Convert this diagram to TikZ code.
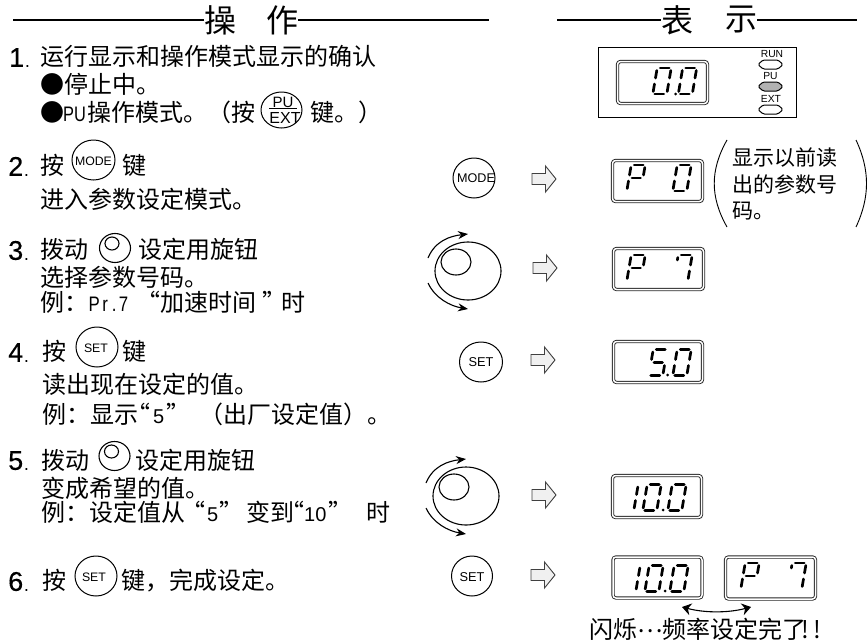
\documentclass[tikz,border=0pt]{standalone}
\usepackage{fontspec}
\usepackage{graphicx}
\usetikzlibrary{shapes.geometric,arrows.meta}
\setmainfont{Liberation Sans}
\newfontfamily\cjk{Noto Sans CJK SC}
\newfontfamily\numf[FakeBold=0.4]{Liberation Sans}
\newcommand\hw[1]{\makebox[12pt][c]{#1}}
\newcommand\sA{\draw[seg] (3,-13)--(12,-13);}
\newcommand\sB{\draw[seg] (14,-10.5)--(14,-3);}
\newcommand\sC{\draw[seg] (14,3)--(14,10.5);}
\newcommand\sD{\draw[seg] (2,13)--(11,13);}
\newcommand\sE{\draw[seg] (0,3)--(0,10.5);}
\newcommand\sF{\draw[seg] (0,-10.5)--(0,-3);}
\newcommand\sG{\draw[seg] (3,0)--(11.5,0);}
\newcommand\sS{\draw[seg] (0,-10.5)--(0,-8);}
\newcommand\digit[3]{\begin{scope}[shift={(#1,#2)},xslant=.17]#3\end{scope}}
\newcommand\blockarrow[2]{\draw[blockar,shift={(#1,#2)}] (0,-5.5)--(13.5,-5.5)--(13.5,-13)--(24,0)--(13.5,13)--(13.5,5.5)--(0,5.5)--cycle;}
\newcommand\led[2]{\draw[line width=1pt,fill=#2,rounded corners=1.5pt,shift={(770.5,#1)}] (-12.5,0)--(-7.5,-4.5)--(7.5,-4.5)--(12.5,0)--(7.5,4.5)--(-7.5,4.5)--cycle;}
\newcommand\bigknob[2]{\begin{scope}[shift={(#1,#2)}]
 \draw[knob] (0,0) ellipse [x radius=33,y radius=29];
 \draw[knob] (-12,-9) ellipse [x radius=15,y radius=13];
 \draw[knob,-{Stealth[length=10pt,width=8pt]}] (-40,-13) .. controls (-33,-30) and (-18,-35) .. (0,-37);
 \draw[knob,-{Stealth[length=10pt,width=8pt]}] (-40,12) .. controls (-33,27) and (-18,35) .. (0,38);
\end{scope}}
\newcommand\smallknob[2]{\begin{scope}[shift={(#1,#2)}]
 \draw[knob] (0,0) ellipse [x radius=15.5,y radius=14.5];
 \draw[knob] (-3,-4.5) ellipse [x radius=7,y radius=6.5];
\end{scope}}
\tikzset{
 seg/.style={line width=2.7pt,line cap=round},
 blockar/.style={draw=black!75,fill=black!6,line width=.9pt,line join=miter},
 knob/.style={line width=1.1pt},
 dispbox/.style={rectangle,rounded corners=3pt,draw=black!85,double=white,double distance=1.5pt,line width=.9pt,inner sep=0pt},
 keyc/.style={ellipse,draw,line width=1pt,inner sep=0pt},
 keytext/.style={inner sep=0pt,font=\fontsize{12.3}{12.3}\selectfont},
 txt/.style={anchor=base west,inner sep=0pt,yshift=-8.8pt,font=\cjk\fontsize{24}{24}\selectfont},
 lat/.style={txt,font=\fontsize{20}{20}\selectfont},
 mono/.style={txt,font=\fontsize{21}{21}\selectfont},
 note/.style={anchor=base west,inner sep=0pt,yshift=-7.8pt,font=\cjk\fontsize{21}{21}\selectfont},
 head/.style={inner sep=0pt,font=\cjk\fontsize{32}{32}\selectfont},
 num/.style={anchor=base west,inner sep=0pt,yshift=-9.8pt,font=\numf\fontsize{27}{27}\selectfont},
 ledtext/.style={inner sep=0pt,font=\fontsize{10.3}{10.3}\selectfont},
 rule/.style={line width=1.8pt}
}
\begin{document}
\begin{tikzpicture}[x=1pt,y=-1pt]
\useasboundingbox (0,0) rectangle (867,640);
% headings
\node[head] (h1) at (220,20) {操};
\node[head] (h2) at (282,20) {作};
\node[head] (h3) at (677,20) {表};
\node[head] (h4) at (741,20) {示};
\coordinate (r1) at (13,20); \coordinate (r2) at (489,20);
\coordinate (r3) at (557,20); \coordinate (r4) at (857,20);
\draw[rule] (r1) -- (h1.west); \draw[rule] (h2.east) -- (r2);
\draw[rule] (r3) -- (h3.west); \draw[rule] (h4.east) -- (r4);
% step 1
\node[num] (n1) at (9,57) {1\hspace{1pt}{\fontsize{16}{16}\selectfont .}};
\node[txt] (t1a) at (40,57) {运行显示和操作模式显示的确认};
\node[txt] (t1b) at (40,85) {●停止中。};
\node[txt] (t1c) at (40,113) {●};
\node[mono] (t1d) at (63,113) {\scalebox{.78}[1]{PU}};
\node[txt] (t1e) at (87,113) {操作模式。（按};
\node[keyc,minimum width=41pt,minimum height=36pt] (kpu) at (281.5,110) {};
\node[inner sep=0pt,font=\fontsize{15}{15}\selectfont] (kpu1) at (283,102) {PU};
\node[inner sep=0pt,font=\fontsize{16}{16}\selectfont] (kpu2) at (285,118) {EXT};
\draw[line width=1pt] (269,108.5) -- (297,108.5);
\node[txt] (t1f) at (310,113) {键。）};
% step 2
\node[num] (n2) at (8,166) {2\hspace{1pt}{\fontsize{16}{16}\selectfont .}};
\node[txt] (t2a) at (40,166) {按};
\node[keyc,minimum width=43pt,minimum height=40pt] (kmode) at (93.5,160) {};
\node[keytext] (kmodet) at (93.5,161) {MODE};
\node[txt] (t2b) at (122,166) {键};
\node[txt] (t2c) at (40,200) {进入参数设定模式。};
% step 3
\node[num] (n3) at (8,250) {3\hspace{1pt}{\fontsize{16}{16}\selectfont .}};
\node[txt] (t3a) at (40,250) {拨动};
\smallknob{115}{248}
\node[txt] (t3b) at (138,250) {设定用旋钮};
\node[txt] (t3c) at (40,278) {选择参数号码。};
\node[txt] (t3d) at (40,303) {例：};
\node[mono] (t3e) at (88.5,303) {\scalebox{.8}[1]{P\kern3pt r\kern5pt.\kern3pt 7}};
\node[txt] (t3f) at (136,303) {“};
\node[txt] (t3g) at (160,303) {加速时间};
\node[txt] (t3h) at (262,303) {”};
\node[txt] (t3i) at (281,303) {时};
% step 4
\node[num] (n4) at (8,352) {4\hspace{1pt}{\fontsize{16}{16}\selectfont .}};
\node[txt] (t4a) at (42,352) {按};
\node[keyc,minimum width=42pt,minimum height=40pt] (kset1) at (97,347) {};
\node[keytext] (kset1t) at (96,348) {SET};
\node[txt] (t4b) at (122,352) {键};
\node[txt] (t4c) at (42,385) {读出现在设定的值。};
\node[txt] (t4d) at (42,415) {例：显示};
\node[txt] (t4e) at (126,415) {“};
\node[lat] (t4f) at (153,415) {5};
\node[txt] (t4g) at (166,415) {”};
\node[txt] (t4h) at (199,415) {（};
\node[txt] (t4i) at (223,415) {出厂设定值）。};
% step 5
\node[num] (n5) at (8,460) {5\hspace{1pt}{\fontsize{16}{16}\selectfont .}};
\node[txt] (t5a) at (41,461) {拨动};
\smallknob{114.5}{456}
\node[txt] (t5b) at (135,461) {设定用旋钮};
\node[txt] (t5c) at (41,489) {变成希望的值。};
\node[txt] (t5d) at (41,513) {例：设定值从};
\node[txt] (t5e) at (181,513) {“};
\node[lat] (t5f) at (207,513) {5};
\node[txt] (t5g) at (219,513) {”};
\node[txt] (t5h) at (246,513) {变到};
\node[txt] (t5i) at (280,513) {“};
\node[lat] (t5j) at (304,513) {10};
\node[txt] (t5k) at (328,513) {”};
\node[txt] (t5l) at (366,513) {时};
% step 6
\node[num] (n6) at (8,581) {6\hspace{1pt}{\fontsize{16}{16}\selectfont .}};
\node[txt] (t6a) at (42,581) {按};
\node[keyc,minimum width=42pt,minimum height=40pt] (kset2) at (96,576) {};
\node[keytext] (kset2t) at (94,577) {SET};
\node[txt] (t6b) at (121,581) {键，完成设定。};
% right panel
\draw[line width=1pt] (598,47) rectangle (796,117);
\node[dispbox,minimum width=90pt,minimum height=42pt] (d1) at (662.5,82.5) {};
\digit{655}{81}{\sA\sB\sC\sD\sE\sF}
\fill (675.5,94) circle (1.5);
\digit{680.5}{81}{\sA\sB\sC\sD\sE\sF}
\node[ledtext] (lrun) at (772,54) {RUN};
\node[ledtext] (lpu) at (770.5,76) {PU};
\node[ledtext] (lext) at (771,99) {EXT};
\led{64.5}{white}
\led{86.5}{black!30}
\led{109.5}{white}
% MODE row
\node[keyc,minimum width=42pt,minimum height=40pt] (kmode2) at (474,178) {};
\node[keytext,font=\fontsize{12.6}{12.6}\selectfont] (kmode2t) at (476,178) {MODE};
\blockarrow{532}{179}
\node[dispbox,minimum width=90pt,minimum height=41pt] (d2) at (657.5,181) {};
\digit{629}{178}{\sA\sB\sE\sF\sG}
\digit{675}{178}{\sA\sB\sC\sD\sE\sF}
\coordinate (pl1) at (727,140); \coordinate (pl2) at (727,227);
\coordinate (pr1) at (856,140); \coordinate (pr2) at (856,227);
\draw[line width=.9pt] (pl1) .. controls (710,170) and (710,197) .. (pl2);
\draw[line width=.9pt] (pr1) .. controls (870,170) and (870,197) .. (pr2);
\node[note] (nt1) at (732,158) {显示以前读};
\node[note] (nt2) at (732,185) {出的参数号};
\node[note] (nt3) at (732,211) {码。};
% knob row
\bigknob{468}{271}
\blockarrow{533}{268}
\node[dispbox,minimum width=90pt,minimum height=41pt] (d3) at (658.5,269) {};
\digit{629}{268}{\sA\sB\sE\sF\sG}
\digit{676}{268}{\sA\sB\sC\sS}
% SET row
\node[keyc,minimum width=43pt,minimum height=40pt] (kset3) at (481,362) {};
\node[keytext,font=\fontsize{12.8}{12.8}\selectfont] (kset3t) at (481,362) {SET};
\blockarrow{531}{360}
\node[dispbox,minimum width=89pt,minimum height=41pt] (d4) at (658,362) {};
\digit{651}{362.5}{\sA\sF\sG\sC\sD}
\fill (667.5,375) circle (1.5);
\digit{675}{362.5}{\sA\sB\sC\sD\sE\sF}
% knob row 2
\bigknob{466}{496}
\blockarrow{532}{495}
\node[dispbox,minimum width=89pt,minimum height=42pt] (d5) at (657,496.5) {};
\digit{622}{497.5}{\sB\sC}
\digit{645}{497.5}{\sA\sB\sC\sD\sE\sF}
\fill (663,510) circle (1.5);
\digit{670}{497.5}{\sA\sB\sC\sD\sE\sF}
% SET row 2
\node[keyc,minimum width=41pt,minimum height=40pt] (kset4) at (472,576) {};
\node[keytext,font=\fontsize{12.8}{12.8}\selectfont] (kset4t) at (472,577) {SET};
\blockarrow{531}{575}
\node[dispbox,minimum width=89pt,minimum height=41pt] (d6) at (657.5,577.5) {};
\digit{624}{578.5}{\sB\sC}
\digit{647}{578.5}{\sA\sB\sC\sD\sE\sF}
\fill (665,591) circle (1.5);
\digit{672}{578.5}{\sA\sB\sC\sD\sE\sF}
\node[dispbox,minimum width=90pt,minimum height=42pt] (d7) at (770.5,578) {};
\digit{743}{576}{\sA\sB\sE\sF\sG}
\digit{790}{576}{\sA\sB\sC\sS}
\coordinate (dbl) at (682,607); \coordinate (dbr) at (751,607);
\draw[knob,{Stealth[length=9pt,width=12pt]}-{Stealth[length=9pt,width=12pt]}] (dbl) .. controls (705,613) and (728,613) .. (dbr);
\node[txt] (b1) at (589,630) {闪烁\raisebox{6.5pt}{…}频率设定完了};
\node[txt] (b2) at (799,630) {\hw{!}\hw{!}};
\end{tikzpicture}
\end{document}
